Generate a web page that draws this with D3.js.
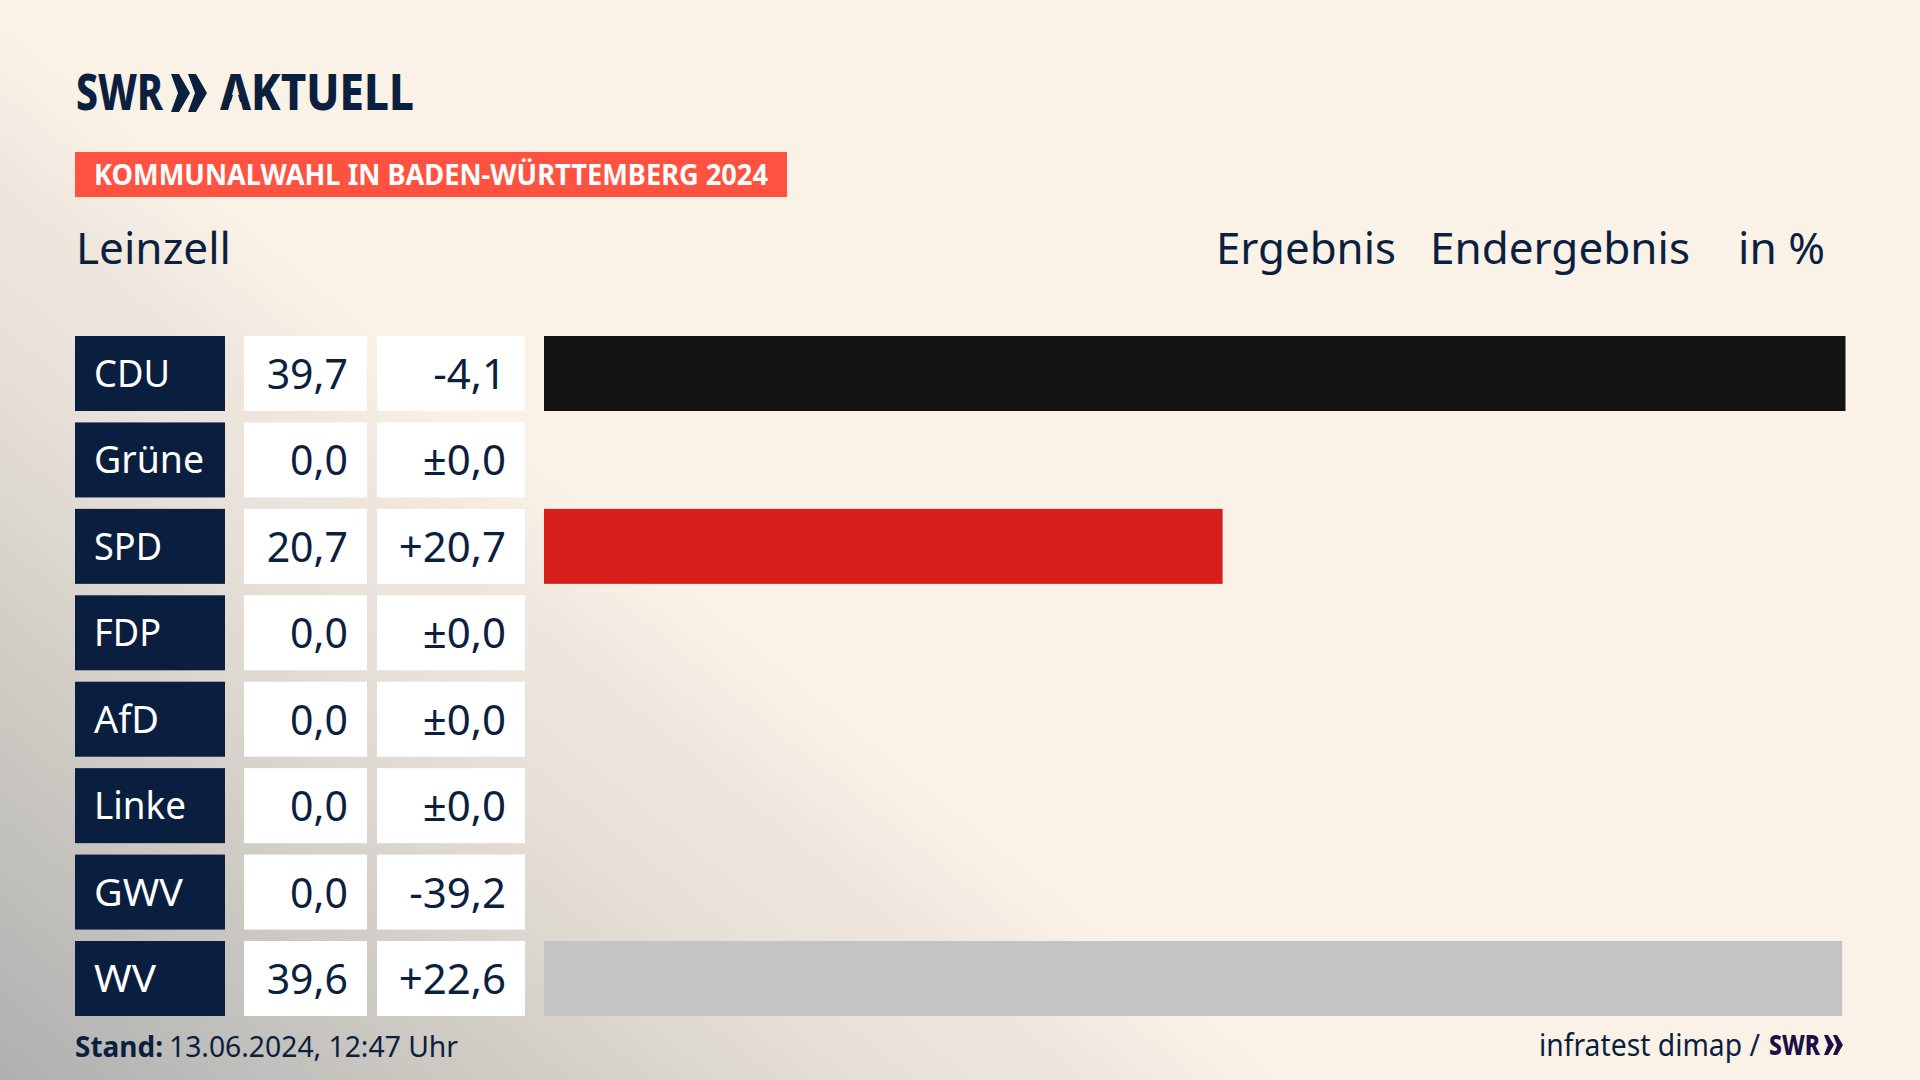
<!DOCTYPE html>
<html>
<head>
<meta charset="utf-8">
<script src="https://cdn.jsdelivr.net/npm/d3@7"></script>
<style>
  html, body { margin: 0; padding: 0; background: #fbf2e7; }
  svg { display: block; }
  text { font-family: "Noto Sans", sans-serif; fill: #0b1f3f; }
</style>
</head>
<body>
<div id="chart"></div>
<script>
const parties = ["CDU", "Grüne", "SPD", "FDP", "AfD", "Linke", "GWV", "WV"];
const labelWidths = [76, 110, 68, 67, 65, 92, 89, 62];
const results = [39.7, 0.0, 20.7, 0.0, 0.0, 0.0, 0.0, 39.6];
const changes = [-4.1, 0.0, 20.7, 0.0, 0.0, 0.0, -39.2, 22.6];
const barColors = ["#131313", "#46962b", "#d71f1b", "#ffed00", "#009ee0", "#be3075", "#c4c4c4", "#c4c4c4"];

const width = 1920, height = 1080;
const rowHeight = 75, rowStep = 86.43, firstRowY = 336;

const svg = d3.select("#chart").append("svg")
    .attr("width", width)
    .attr("height", height);

const defs = svg.append("defs");
const glow = defs.append("linearGradient")
    .attr("id", "glow")
    .attr("gradientUnits", "userSpaceOnUse")
    .attr("x1", 0).attr("y1", 1080).attr("x2", 520).attr("y2", 449);
[[0, "#afafaf"], [0.17, "#bdbcb9"], [0.36, "#cdc9c3"], [0.55, "#dcd7cf"], [0.72, "#e9e2da"], [0.86, "#efe7de"], [1, "#fbf2e7"]].forEach(function(s){
    glow.append("stop").attr("offset", s[0]).attr("stop-color", s[1]);
});

svg.append("rect").attr("width", width).attr("height", height).attr("fill", "url(#glow)");

// scales
const y = d3.scaleBand().domain(parties)
    .range([firstRowY, firstRowY + rowStep * (parties.length - 1) + rowHeight])
    .paddingInner((rowStep - rowHeight) / rowStep)
    .paddingOuter(0).align(0);
const x = d3.scaleLinear().domain([0, 39.7]).range([544, 1845.5]);

const fmt = d3.format(".1f");
const resultText = v => fmt(v).replace(".", ",");
const changeText = function(v){
    if (v === 0) return "±0,0";
    return (v > 0 ? "+" : "-") + fmt(Math.abs(v)).replace(".", ",");
};

// text with a fixed width, the house font is narrower than what is installed
function fitted(parent, px, py, size, len, str){
    return parent.append("text").attr("x", px).attr("y", py)
        .attr("font-size", size)
        .attr("textLength", len).attr("lengthAdjust", "spacingAndGlyphs")
        .text(str);
}

// logo
fitted(svg, 76, 110, 49, 87, "SWR").attr("font-weight", 800);
svg.selectAll("path.chev").data([171, 188]).enter().append("path")
    .attr("class", "chev")
    .attr("fill", "#0b1f3f")
    .attr("d", d => `M${d},74 L${d + 8},74 L${d + 19},93 L${d + 8},112 L${d},112 L${d + 7},93 Z`);
fitted(svg, 220, 110, 49, 194, "AKTUELL").attr("font-weight", 800);
// the logo A has no crossbar
svg.append("path").attr("fill", "#f9f0e5").attr("d", "M235.5,87 L228,111 L243,111 Z");

// topic band
svg.append("rect").attr("x", 75).attr("y", 152).attr("width", 712).attr("height", 45).attr("fill", "#ff5240");
fitted(svg, 94, 185, 28, 674, "KOMMUNALWAHL IN BADEN-WÜRTTEMBERG 2024")
    .attr("font-weight", 700).style("fill", "#fff");

// heading
fitted(svg, 76, 264, 44, 155, "Leinzell");
fitted(svg, 1216, 264, 44, 180, "Ergebnis");
fitted(svg, 1430, 264, 44, 260, "Endergebnis");
fitted(svg, 1738, 264, 44, 87, "in %");

// rows
const rows = svg.selectAll("g.row").data(parties).enter().append("g")
    .attr("class", "row")
    .attr("transform", d => "translate(0," + y(d) + ")");

rows.append("rect").attr("x", 75).attr("width", 150).attr("height", y.bandwidth()).attr("fill", "#0a1f3f");
rows.append("text").attr("x", 94).attr("y", 51).attr("font-size", 39).style("fill", "#fff")
    .attr("textLength", (d, i) => labelWidths[i]).attr("lengthAdjust", "spacingAndGlyphs")
    .text(d => d);

rows.append("rect").attr("x", 244).attr("width", 123).attr("height", y.bandwidth()).attr("fill", "#fff");
rows.append("text").attr("x", 348).attr("y", 53).attr("font-size", 41).attr("text-anchor", "end")
    .text((d, i) => resultText(results[i]));

rows.append("rect").attr("x", 377).attr("width", 148).attr("height", y.bandwidth()).attr("fill", "#fff");
rows.append("text").attr("x", 506).attr("y", 53).attr("font-size", 42).attr("text-anchor", "end")
    .text((d, i) => changeText(changes[i]));

rows.append("rect").attr("x", x(0))
    .attr("width", (d, i) => x(results[i]) - x(0))
    .attr("height", y.bandwidth())
    .attr("fill", (d, i) => barColors[i]);

// footer
fitted(svg, 75, 1057, 29, 88, "Stand:").attr("font-weight", 700);
fitted(svg, 169, 1057, 29, 289, "13.06.2024, 12:47 Uhr");

fitted(svg, 1539, 1056, 30, 221, "infratest dimap /");
fitted(svg, 1769, 1055, 29, 51, "SWR").attr("font-weight", 800).style("fill", "#1d0f45");
svg.selectAll("path.chev2").data([1824, 1833]).enter().append("path")
    .attr("class", "chev2")
    .attr("fill", "#1d0f45")
    .attr("d", d => `M${d},1035 L${d + 4},1035 L${d + 10},1045 L${d + 4},1055 L${d},1055 L${d + 4},1045 Z`);
</script>
</body>
</html>
